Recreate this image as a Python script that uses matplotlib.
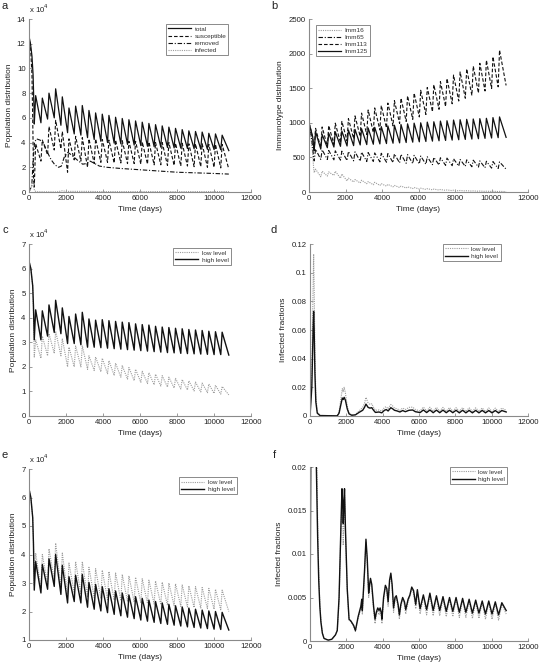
import matplotlib
matplotlib.use("Agg")
import matplotlib.pyplot as plt
from matplotlib.ticker import FuncFormatter

plt.rcParams['font.family'] = ['Liberation Sans', 'DejaVu Sans']

# ---------------------------------------------------------------- data
# yearly birth-pulse days (peak of each tooth) and end of simulation
PULSE_DAYS = [360, 720, 1080, 1440, 1800, 2160, 2520, 2880, 3240, 3600,
              3960, 4320, 4680, 5040, 5400, 5760, 6120, 6480, 6840, 7200,
              7560, 7920, 8280, 8640, 9000, 9360, 9720, 10080, 10440]
END_DAY = 10800

# ---- panel a (units of 10^4)
a_total_start_t = [0, 80, 160, 220, 270]
a_total_start = [12.6, 12.0, 11.0, 9.5, 6.8]
a_total_peak = [7.8, 7.6, 8.0, 8.35, 7.7, 6.8, 6.95, 7.0, 6.6, 6.4, 6.3, 6.2, 6.05, 5.95,
                5.85, 5.75, 5.65, 5.55, 5.45, 5.35, 5.25, 5.15, 5.05, 4.95, 4.9, 4.85, 4.75, 4.7, 4.6]
a_total_trough = [5.5, 5.6, 5.9, 6.0, 5.4, 4.8, 4.7, 4.6, 4.4, 4.25, 4.1, 4.0, 3.95, 3.9,
                  3.85, 3.8, 3.75, 3.7, 3.67, 3.63, 3.6, 3.57, 3.55, 3.52, 3.5, 3.47, 3.45, 3.43, 3.42]
a_total_end = 3.35

a_sus_start_t = [0, 80, 160, 210, 250]
a_sus_start = [12.6, 11.8, 9.5, 5.0, 1.0]
a_sus_peak = [3.9, 4.2, 5.3, 5.8, 4.9, 4.3, 4.5, 4.4, 4.3, 4.3, 4.25, 4.2, 4.2, 4.15, 4.1,
              4.1, 4.05, 4.05, 4.0, 4.0, 4.0, 3.95, 3.95, 3.9, 3.9, 3.9, 3.85, 3.85, 3.85]
a_sus_trough = [0.4, 2.5, 3.0, 3.4, 3.5, 1.6, 2.6, 2.5, 2.0, 2.3, 2.4, 2.4, 2.35, 2.35, 2.3,
                2.3, 2.25, 2.25, 2.2, 2.2, 2.15, 2.15, 2.1, 2.1, 2.05, 2.05, 2.0, 2.0, 1.95]
a_sus_end = 1.85

a_rem_t = [0, 150, 220, 300, 400, 600, 800, 1000, 1200, 1400, 1600, 1750, 1900, 2100, 2300,
           2600, 2900, 3100, 3300, 3500, 3800, 4200, 5000, 6000, 7000, 8000, 9000, 10000, 10800]
a_rem = [0, 0.5, 2.5, 4.0, 4.3, 4.2, 3.9, 3.2, 2.6, 2.2, 2.0, 2.1, 2.8, 3.2, 3.0,
         2.6, 2.25, 2.3, 2.5, 2.35, 2.1, 2.0, 1.9, 1.8, 1.7, 1.6, 1.55, 1.5, 1.45]

a_inf_t = [0, 100, 180, 230, 300, 400, 1500, 1800, 2000, 3100, 4000, 10800]
a_inf = [0, 0.3, 0.8, 0.6, 0.1, 0.02, 0.0, 0.1, 0.05, 0.05, 0.03, 0.03]

# ---- panel b
b_start_t = [0, 100, 200, 260]
b125_start = [1000, 900, 800, 650]
b125_peak = [870, 830, 850, 870, 880, 895, 905, 915, 925, 935, 945, 955, 965, 975, 985,
             995, 1000, 1010, 1015, 1025, 1030, 1040, 1045, 1050, 1055, 1060, 1065, 1075, 1085]
b125_trough = [600, 620, 640, 650, 660, 665, 670, 680, 685, 690, 695, 700, 705, 710, 715,
               720, 725, 730, 735, 740, 745, 750, 755, 760, 765, 770, 775, 780, 785]
b125_end = 790

b113_start = [1000, 900, 780, 640]
b113_peak = [920, 940, 960, 995, 1020, 1060, 1100, 1140, 1185, 1215, 1250, 1285, 1320, 1355,
             1390, 1430, 1470, 1510, 1550, 1595, 1640, 1690, 1735, 1780, 1820, 1860, 1905, 1955, 2050]
b113_trough = [600, 640, 660, 690, 710, 740, 770, 800, 830, 860, 895, 925, 955, 990,
               1020, 1050, 1085, 1120, 1160, 1195, 1235, 1275, 1315, 1355, 1395, 1430, 1460, 1495, 1520]
b113_end = 1540

b65_start = [1000, 850, 650, 480]
b65_peak = [620, 610, 600, 595, 590, 585, 580, 575, 570, 565, 560, 555, 550, 545, 540,
            530, 520, 510, 500, 495, 490, 480, 470, 465, 460, 450, 445, 440, 435]
b65_trough = [450, 470, 470, 465, 460, 455, 450, 445, 440, 440, 435, 430, 425, 420, 415,
              410, 405, 400, 395, 390, 385, 380, 375, 370, 365, 360, 350, 345, 340]
b65_end = 330

b16_start = [1000, 800, 550, 330]
b16_peak = [330, 300, 290, 300, 260, 200, 180, 170, 150, 140, 120, 110, 95, 85, 75,
            65, 55, 48, 42, 36, 30, 26, 22, 19, 16, 14, 12, 10, 9]
b16_trough = [280, 220, 230, 240, 200, 160, 145, 130, 120, 105, 95, 85, 75, 65, 58,
              50, 43, 37, 32, 28, 24, 20, 17, 15, 13, 11, 9, 8, 7]
b16_end = 6

# ---- panel c (units of 10^4)
c_start_t = [0, 100, 200, 240]
c_high_start = [6.3, 6.0, 5.3, 4.5]
c_high_peak = [4.32, 4.28, 4.52, 4.71, 4.40, 4.05, 4.15, 4.22, 3.95, 3.9, 3.92, 3.88, 3.85, 3.82,
               3.8, 3.75, 3.72, 3.7, 3.65, 3.62, 3.6, 3.57, 3.55, 3.52, 3.5, 3.48, 3.45, 3.43, 3.41]
c_high_trough = [3.1, 3.1, 3.25, 3.4, 3.35, 2.95, 2.95, 2.9, 2.8, 2.8, 2.78, 2.76, 2.74, 2.72,
                 2.7, 2.68, 2.66, 2.64, 2.62, 2.6, 2.58, 2.57, 2.55, 2.54, 2.53, 2.52, 2.51, 2.5, 2.5]
c_high_end = 2.48

c_low_start = [6.3, 6.0, 5.3, 4.3]
c_low_peak = [3.1, 3.25, 3.35, 3.45, 3.15, 2.8, 2.85, 2.85, 2.45, 2.4, 2.35, 2.25, 2.15, 2.05,
              1.97, 1.9, 1.82, 1.76, 1.7, 1.64, 1.58, 1.53, 1.48, 1.43, 1.38, 1.34, 1.3, 1.25, 1.2]
c_low_trough = [2.4, 2.35, 2.45, 2.55, 2.45, 2.0, 2.0, 2.0, 1.9, 1.85, 1.8, 1.72, 1.65, 1.58,
                1.5, 1.44, 1.37, 1.32, 1.27, 1.22, 1.18, 1.14, 1.1, 1.06, 1.02, 0.98, 0.95, 0.92, 0.89]
c_low_end = 0.86

# ---- panel e (units of 10^4)
e_start_t = [0, 100, 200, 240]
e_high_start = [6.3, 6.0, 5.3, 4.4]
e_high_peak = [3.75, 3.65, 3.85, 4.0, 3.62, 3.22, 3.27, 3.3, 3.02, 2.95, 2.87, 2.8, 2.72, 2.65,
               2.58, 2.52, 2.46, 2.4, 2.35, 2.3, 2.25, 2.2, 2.16, 2.12, 2.08, 2.05, 2.02, 2.0, 1.97]
e_high_trough = [2.75, 2.65, 2.78, 2.88, 2.6, 2.3, 2.35, 2.3, 2.15, 2.08, 2.02, 1.96, 1.9, 1.85,
                 1.8, 1.75, 1.7, 1.66, 1.62, 1.58, 1.55, 1.52, 1.49, 1.46, 1.44, 1.42, 1.4, 1.38, 1.37]
e_high_end = 1.35

e_low_start = [6.3, 6.0, 5.3, 4.5]
e_low_peak = [4.05, 4.0, 4.2, 4.4, 4.05, 3.7, 3.75, 3.75, 3.55, 3.5, 3.45, 3.4, 3.35, 3.3,
              3.25, 3.2, 3.15, 3.1, 3.07, 3.03, 3.0, 2.97, 2.93, 2.9, 2.87, 2.84, 2.81, 2.78, 2.75]
e_low_trough = [2.9, 2.8, 2.95, 3.1, 2.85, 2.6, 2.65, 2.6, 2.5, 2.48, 2.45, 2.42, 2.4, 2.38,
                2.35, 2.33, 2.3, 2.28, 2.26, 2.24, 2.22, 2.2, 2.18, 2.16, 2.14, 2.12, 2.1, 2.08, 2.06]
e_low_end = 2.0

# ---- panels d and f: infected fractions
d_t = [0, 100, 170, 200, 230, 270, 320, 400, 550, 1500, 1600, 1700, 1780, 1830, 1880, 1950,
       2050, 2150, 2300, 2500, 2700, 2900, 3000, 3080, 3200, 3300, 3400, 3500, 3600, 3800,
       3950, 4100, 4200, 4300, 4450, 4550, 4650, 4800, 4950, 5100, 5250, 5450, 5650, 5800]
d_high = [0, 0.02, 0.06, 0.073, 0.06, 0.03, 0.01, 0.002, 0.0003, 0.0001, 0.002, 0.008, 0.0125,
          0.0115, 0.013, 0.011, 0.005, 0.0015, 0.0005, 0.0008, 0.0025, 0.004, 0.006, 0.0083,
          0.006, 0.0055, 0.0058, 0.004, 0.0025, 0.0028, 0.0022, 0.004, 0.0045, 0.0035, 0.0058,
          0.005, 0.004, 0.0035, 0.0028, 0.0038, 0.003, 0.004, 0.0042, 0.003]
d_low = [0, 0.03, 0.09, 0.113, 0.09, 0.045, 0.015, 0.003, 0.0004, 0.0002, 0.003, 0.012, 0.019,
         0.017, 0.02, 0.016, 0.007, 0.002, 0.0007, 0.001, 0.0035, 0.006, 0.009, 0.013,
         0.009, 0.008, 0.0085, 0.006, 0.004, 0.0042, 0.0035, 0.006, 0.0065, 0.005, 0.008,
         0.007, 0.0055, 0.005, 0.004, 0.0055, 0.0045, 0.006, 0.0062, 0.0045]

f_t = [0, 40, 120, 200, 300, 350, 420, 480, 540, 600, 680, 770, 1000, 1200, 1400, 1500, 1600, 1700,
       1760, 1800, 1830, 1870, 1900, 1950, 2050, 2150, 2250, 2400, 2500, 2650, 2800, 2850,
       2880, 2920, 3000, 3080, 3150, 3230, 3280, 3330, 3400, 3500, 3580, 3650, 3730, 3800,
       3860, 3920, 3960, 4050, 4150, 4230, 4300, 4380, 4450, 4520, 4600, 4680, 4750, 4850,
       4920, 5000, 5100, 5200, 5270, 5400, 5500, 5600, 5700, 5820, 5910]
f_high = [0, 0.02, 0.06, 0.07, 0.04, 0.02, 0.012, 0.007, 0.004, 0.0022, 0.0009, 0.0003, 0.0001,
          0.0002, 0.0007, 0.0012, 0.005, 0.013, 0.0175, 0.016, 0.0135, 0.016, 0.0175, 0.013, 0.006,
          0.0025, 0.0023, 0.0018, 0.0012, 0.0028, 0.004, 0.0048, 0.0035, 0.005, 0.008, 0.0117,
          0.0095, 0.0055, 0.0065, 0.0072, 0.0065, 0.004, 0.0025, 0.0033, 0.0038, 0.0035, 0.0038,
          0.0033, 0.0025, 0.005, 0.0064, 0.006, 0.0045, 0.007, 0.0078, 0.0065, 0.0038, 0.005,
          0.0052, 0.0042, 0.003, 0.0042, 0.005, 0.0045, 0.0036, 0.0048, 0.0053, 0.0062, 0.0058,
          0.0042, 0.0059]
f_low = [0, 0.025, 0.08, 0.1, 0.05, 0.025, 0.014, 0.008, 0.0045, 0.0024, 0.001, 0.0003, 0.0001,
         0.0002, 0.0007, 0.0012, 0.0045, 0.0125, 0.017, 0.014, 0.011, 0.014, 0.017, 0.0125, 0.0058,
         0.0024, 0.0022, 0.0017, 0.0011, 0.0026, 0.0037, 0.0045, 0.0031, 0.0047, 0.0077, 0.0114,
         0.009, 0.005, 0.006, 0.0069, 0.0062, 0.0036, 0.002, 0.003, 0.0035, 0.003, 0.0035,
         0.0029, 0.002, 0.0047, 0.0062, 0.0056, 0.004, 0.0067, 0.0076, 0.0061, 0.0033, 0.0047,
         0.005, 0.0038, 0.0025, 0.0039, 0.0048, 0.0041, 0.0031, 0.0045, 0.0051, 0.006, 0.0055,
         0.0037, 0.0057]

# regular yearly oscillation after ~6000 days (alternating trough / peak, then end)
osc_days = [6060, 6240, 6420, 6600, 6780, 6960, 7140, 7320, 7500, 7680, 7860, 8040, 8220,
            8400, 8580, 8760, 8940, 9120, 9300, 9480, 9660, 9840, 10020, 10200, 10380, 10560, 10800]
f_high_osc = [0.0037, 0.0053, 0.0036, 0.0055, 0.0035, 0.0052, 0.0035, 0.0051, 0.0034, 0.005,
              0.0034, 0.005, 0.0033, 0.0049, 0.0033, 0.0048, 0.0032, 0.0047, 0.0032, 0.0046,
              0.0031, 0.0046, 0.0031, 0.0045, 0.003, 0.0044, 0.0035]
f_low_osc = [0.0031, 0.0051, 0.003, 0.0053, 0.0029, 0.005, 0.0029, 0.0049, 0.0028, 0.0048,
             0.0028, 0.0048, 0.0027, 0.0047, 0.0027, 0.0046, 0.0026, 0.0045, 0.0026, 0.0044,
             0.0025, 0.0044, 0.0025, 0.0043, 0.0024, 0.0042, 0.0031]
d_high_osc = [0.0024, 0.0042, 0.0024, 0.0042, 0.0023, 0.0041, 0.0023, 0.0041, 0.0023, 0.004,
              0.0023, 0.004, 0.0022, 0.004, 0.0022, 0.0039, 0.0022, 0.0039, 0.0022, 0.0039,
              0.0022, 0.0038, 0.0022, 0.0038, 0.0021, 0.0038, 0.0028]
d_low_osc = [0.0035, 0.0062, 0.0035, 0.0061, 0.0034, 0.006, 0.0034, 0.006, 0.0033, 0.0059,
             0.0033, 0.0058, 0.0033, 0.0058, 0.0032, 0.0057, 0.0032, 0.0057, 0.0032, 0.0056,
             0.0031, 0.0056, 0.0031, 0.0055, 0.0031, 0.0055, 0.004]

# ---------------------------------------------------------------- helpers
RISE = 75  # days taken by the pulse up-stroke


def sawtooth(start_t, start_v, troughs, peaks, end_v):
    t = list(start_t)
    v = list(start_v)
    for day, lo, hi in zip(PULSE_DAYS, troughs, peaks):
        t += [day - RISE, day]
        v += [lo, hi]
    t.append(END_DAY)
    v.append(end_v)
    return t, v


W, H = 539, 668
fig = plt.figure(figsize=(W / 100, H / 100), dpi=100)
fig.patch.set_facecolor('white')

SPINE = '#8a8a8a'
TXT = '#222222'
BLACK = '#111111'
GRAY = '#9c9c9c'


def add_ax(l, t, r, b):
    return fig.add_axes([l / W, 1 - b / H, (r - l) / W, (b - t) / H])


def style(ax, ylim, yticks, ylabel, offset=False):
    ax.set_xlim(0, 12000)
    ax.set_xticks([0, 2000, 4000, 6000, 8000, 10000, 12000])
    ax.set_ylim(*ylim)
    ax.set_yticks(yticks)
    ax.yaxis.set_major_formatter(FuncFormatter(lambda v, p: '%g' % round(v, 6)))
    for s in ['top', 'right']:
        ax.spines[s].set_visible(False)
    for s in ['left', 'bottom']:
        ax.spines[s].set_color(SPINE)
        ax.spines[s].set_linewidth(0.8)
    ax.tick_params(direction='in', length=2.2, width=0.6, colors=SPINE,
                   labelcolor=TXT, labelsize=5.6, pad=2.5)
    ax.set_xlabel('Time (days)', fontsize=6, color=TXT, labelpad=2.5)
    ax.set_ylabel(ylabel, fontsize=6, color=TXT, labelpad=3)
    if offset:
        ax.text(0.0, 1.025, r'x 10$^4$', transform=ax.transAxes, fontsize=5.6,
                color=TXT, ha='left', va='bottom')


def legend(ax, x, y):
    leg = ax.legend(loc='upper left', bbox_to_anchor=(x, y), fontsize=4.6,
                    handlelength=3.6, handletextpad=0.5, labelspacing=0.25,
                    borderpad=0.35, borderaxespad=0, fancybox=False, framealpha=1)
    leg.get_frame().set_edgecolor('#777777')
    leg.get_frame().set_linewidth(0.6)
    for txt in leg.get_texts():
        txt.set_color('#333333')


DASH = (0, (3.2, 1.8))
DASHDOT = (0, (4, 1.6, 1, 1.6))
DOT = (0, (1, 1))

# ---- a
ax = add_ax(29, 19, 251, 192)
t, v = sawtooth(a_total_start_t, a_total_start, a_total_trough, a_total_peak, a_total_end)
ax.plot(t, v, color=BLACK, lw=0.9, ls='-', label='total')
t, v = sawtooth(a_sus_start_t, a_sus_start, a_sus_trough, a_sus_peak, a_sus_end)
ax.plot(t, v, color=BLACK, lw=0.8, ls=DASH, label='susceptible')
ax.plot(a_rem_t, a_rem, color=BLACK, lw=0.8, ls=DASHDOT, label='removed')
ax.plot(a_inf_t, a_inf, color=GRAY, lw=0.8, ls=DOT, label='infected')
style(ax, (0, 14), [0, 2, 4, 6, 8, 10, 12, 14], 'Population distribution', offset=True)
legend(ax, 0.617, 0.971)

# ---- b
ax = add_ax(309, 19, 528, 192)
t, v = sawtooth(b_start_t, b16_start, b16_trough, b16_peak, b16_end)
ax.plot(t, v, color=GRAY, lw=0.8, ls=DOT, label='Imm16')
t, v = sawtooth(b_start_t, b65_start, b65_trough, b65_peak, b65_end)
ax.plot(t, v, color=BLACK, lw=0.8, ls=DASHDOT, label='Imm65')
t, v = sawtooth(b_start_t, b113_start, b113_trough, b113_peak, b113_end)
ax.plot(t, v, color=BLACK, lw=0.8, ls=DASH, label='Imm113')
t, v = sawtooth(b_start_t, b125_start, b125_trough, b125_peak, b125_end)
ax.plot(t, v, color=BLACK, lw=0.9, ls='-', label='Imm125')
style(ax, (0, 2500), [0, 500, 1000, 1500, 2000, 2500], 'Immunotype distribution')
legend(ax, 0.032, 0.965)

# ---- c
ax = add_ax(29, 244, 251, 416)
t, v = sawtooth(c_start_t, c_low_start, c_low_trough, c_low_peak, c_low_end)
ax.plot(t, v, color=GRAY, lw=0.8, ls=DOT, label='low level')
t, v = sawtooth(c_start_t, c_high_start, c_high_trough, c_high_peak, c_high_end)
ax.plot(t, v, color=BLACK, lw=1.0, ls='-', label='high level')
style(ax, (0, 7), [0, 1, 2, 3, 4, 5, 6, 7], 'Population distribution', offset=True)
legend(ax, 0.649, 0.977)

# ---- d
ax = add_ax(310, 244, 528, 416)
ax.plot(d_t + osc_days, d_low + d_low_osc, color=GRAY, lw=0.8, ls=DOT, label='low level')
ax.plot(d_t + osc_days, d_high + d_high_osc, color=BLACK, lw=1.0, ls='-', label='high level')
style(ax, (0, 0.12), [0, 0.02, 0.04, 0.06, 0.08, 0.1, 0.12], 'Infected fractions')
legend(ax, 0.61, 1.0)

# ---- e
ax = add_ax(29, 469, 251, 640)
t, v = sawtooth(e_start_t, e_low_start, e_low_trough, e_low_peak, e_low_end)
ax.plot(t, v, color=GRAY, lw=0.8, ls=DOT, label='low level')
t, v = sawtooth(e_start_t, e_high_start, e_high_trough, e_high_peak, e_high_end)
ax.plot(t, v, color=BLACK, lw=1.0, ls='-', label='high level')
style(ax, (1, 7), [1, 2, 3, 4, 5, 6, 7], 'Population distribution', offset=True)
legend(ax, 0.676, 0.953)

# ---- f
ax = add_ax(310, 467, 528, 641)
ax.plot(f_t + osc_days, f_low + f_low_osc, color=GRAY, lw=0.8, ls=DOT, label='low level')
ax.plot(f_t + osc_days, f_high + f_high_osc, color=BLACK, lw=1.0, ls='-', label='high level')
style(ax, (0, 0.02), [0, 0.005, 0.01, 0.015, 0.02], 'Infected fractions')
legend(ax, 0.642, 1.0)

# ---- panel letters
for letter, x, y in [('a', 5, 6), ('b', 274, 6), ('c', 5, 230), ('d', 274, 230),
                     ('e', 5, 455), ('f', 274, 455)]:
    fig.text(x / W, 1 - y / H, letter, fontsize=8, color=TXT, ha='center', va='center')

fig.savefig('out.png', dpi=100, facecolor='white')
